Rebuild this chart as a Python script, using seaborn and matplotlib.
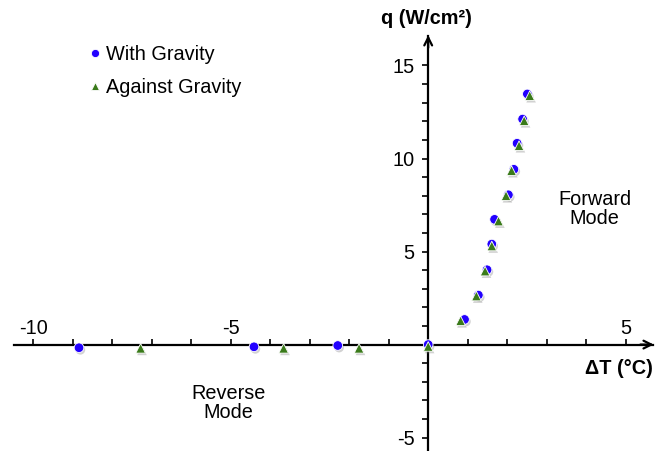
import numpy as np
import pandas as pd
import matplotlib
matplotlib.use("Agg")
import matplotlib.pyplot as plt
import matplotlib.patheffects as pe
from matplotlib.ticker import FixedLocator
import seaborn as sns

# --- data ---
series_names = ["With Gravity", "Against Gravity"]
with_dt = [-8.84, -4.41, -2.29, 0.0, 0.92, 1.27, 1.49, 1.61, 1.68, 2.03, 2.17, 2.25, 2.39, 2.51]
with_q = [-0.17, -0.12, -0.05, 0.0, 1.35, 2.66, 4.02, 5.40, 6.73, 8.05, 9.42, 10.82, 12.12, 13.47]
against_dt = [-7.28, -3.66, -1.75, 0.0, 0.82, 1.22, 1.44, 1.61, 1.78, 1.97, 2.11, 2.30, 2.43, 2.57]
against_q = [-0.2, -0.2, -0.2, -0.1, 1.28, 2.61, 3.95, 5.30, 6.64, 8.00, 9.35, 10.69, 12.03, 13.38]

x_major = [-10, -5, 5]
x_minor = list(range(-10, 6))
y_major = [-5, 5, 10, 15]
y_minor = list(range(-5, 16))
x_label = "ΔT (°C)"
y_label = "q (W/cm²)"
forward_text = "Forward\nMode"
reverse_text = "Reverse\nMode"

df = pd.DataFrame({
    "dT": with_dt + against_dt,
    "q": with_q + against_q,
    "series": [series_names[0]] * len(with_dt) + [series_names[1]] * len(against_dt),
})

sns.set_style("white")
plt.rcParams["font.family"] = ["Liberation Sans", "DejaVu Sans"]
plt.rcParams["axes.unicode_minus"] = False
plt.rcParams["text.color"] = "black"
plt.rcParams["xtick.color"] = "black"
plt.rcParams["ytick.color"] = "black"
fs = 14.3

fig = plt.figure(figsize=(6.66, 4.51), dpi=100)
ax = fig.add_axes([0, 0, 1, 1])
ax.patch.set_alpha(0)

palette = {"With Gravity": "#2200ff", "Against Gravity": "#3a7a1a"}
markers = {"With Gravity": "o", "Against Gravity": "^"}
sns.scatterplot(data=df, x="dT", y="q", hue="series", style="series",
                palette=palette, markers=markers, s=48,
                edgecolor="white", linewidth=0.6, ax=ax, zorder=5)
for coll in ax.collections:
    coll.set_path_effects([pe.SimplePatchShadow(offset=(1, -1.5), shadow_rgbFace="gray", alpha=0.35),
                           pe.Normal()])

ax.set_xlim(-10.84, 6.02)
ax.set_ylim(-5.72, 18.52)

# axes through origin
for side in ["top", "right"]:
    ax.spines[side].set_visible(False)
ax.spines["bottom"].set_position(("data", 0))
ax.spines["left"].set_position(("data", 0))
ax.spines["bottom"].set_bounds(-10.49, 5.7)
ax.spines["left"].set_bounds(-5.72, 16.6)
for side in ["bottom", "left"]:
    ax.spines[side].set_linewidth(1.6)
    ax.spines[side].set_color("black")
ax.annotate("", xy=(5.78, 0), xytext=(5.3, 0),
            arrowprops=dict(arrowstyle="->", lw=1.6, color="black", mutation_scale=14))
ax.annotate("", xy=(0, 16.78), xytext=(0, 15.8),
            arrowprops=dict(arrowstyle="->", lw=1.6, color="black", mutation_scale=14))

ax.xaxis.set_major_locator(FixedLocator(x_major))
ax.xaxis.set_minor_locator(FixedLocator(x_minor))
ax.yaxis.set_major_locator(FixedLocator(y_major))
ax.yaxis.set_minor_locator(FixedLocator(y_minor))
ax.tick_params(axis="x", which="both", direction="in", length=4, width=1.2,
               bottom=True, labelsize=fs, pad=-18.5, colors="black")
ax.tick_params(axis="y", which="both", direction="out", length=4, width=1.2,
               left=True, labelsize=fs, pad=6, colors="black")
ax.set_xlabel("")
ax.set_ylabel("")

ax.text(-0.04, 17.5, y_label, ha="center", va="center", fontsize=fs,
        fontweight="bold", color="black")
ax.text(4.84, -1.26, x_label, ha="center", va="center", fontsize=fs,
        fontweight="bold", color="black")
ax.text(4.21, 7.31, forward_text, ha="center", va="center", fontsize=fs,
        linespacing=1.0, color="black")
ax.text(-5.06, -3.16, reverse_text, ha="center", va="center", fontsize=fs,
        linespacing=1.0, color="black")

handles, labels = ax.get_legend_handles_labels()
keep = [(h, l) for h, l in zip(handles, labels) if l in series_names]
leg = ax.legend([h for h, _ in keep], [l for _, l in keep], loc="upper left",
                bbox_to_anchor=(0.1216, 0.917), frameon=False, fontsize=fs,
                handlelength=0.6, handletextpad=0.28, labelspacing=0.7,
                markerscale=0.85, borderaxespad=0)
for t in leg.get_texts():
    t.set_color("black")

fig.savefig("out.png", dpi=100)
